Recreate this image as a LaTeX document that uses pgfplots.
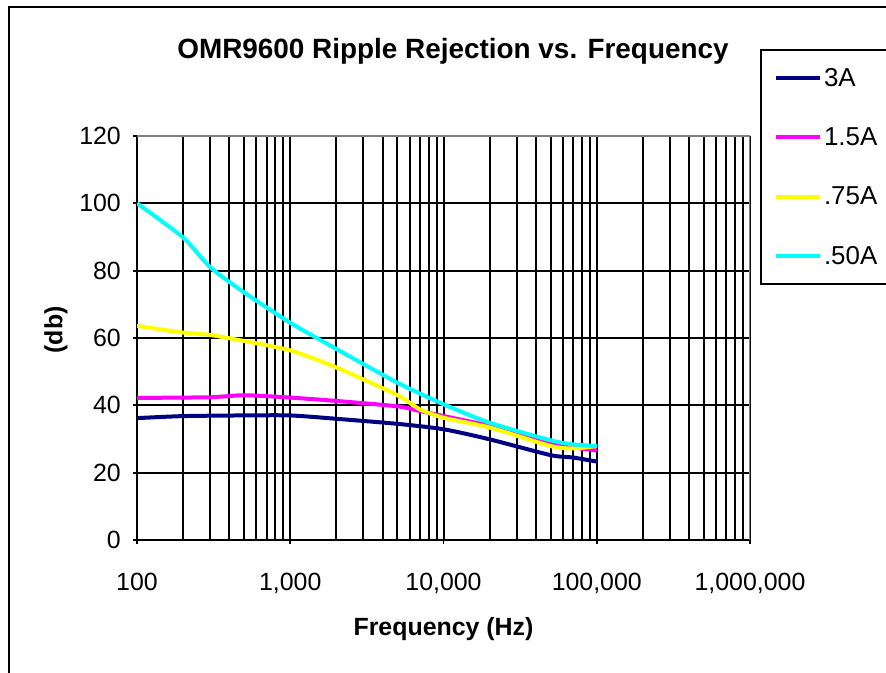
\documentclass[border=0pt]{standalone}
\usepackage{fontspec}
\setmainfont{Liberation Sans}
\usepackage{pgfplots}
\pgfplotsset{compat=1.18}
\definecolor{c3a}{HTML}{000080}
\definecolor{c15a}{HTML}{FF00FF}
\definecolor{c75a}{HTML}{FFFF00}
\definecolor{c50a}{HTML}{00FFFF}
\begin{document}
\begin{tikzpicture}[x=1bp,y=1bp]
\path[use as bounding box] (0,0) rectangle (886,673);
\draw[line width=2.2bp] (9,-5) -- (9,666) -- (890,666);
\node[font=\bfseries\fontsize{28}{32}\selectfont] at (453,622) {OMR9600 Ripple Rejection vs. Frequency};
\begin{axis}[
  at={(137bp,133bp)}, anchor=south west,
  width=613bp, height=404bp, scale only axis,
  xmode=log, xmin=100, xmax=1000000,
  ymin=0, ymax=120, ytick={0,20,...,120},
  xtick={100,1000,10000,100000,1000000},
  xticklabels={100,{1,000},{10,000},{100,000},{1,000,000}},
  axis x line*=bottom, axis y line*=left,
  axis line style={line width=2bp, black},
  xmajorgrids, xminorgrids, ymajorgrids,
  grid style={line width=2bp, black},
  major grid style={line width=2bp, black},
  minor grid style={line width=2bp, black},
  tick align=outside, major tick length=4bp, minor tick length=0bp,
  tick style={line width=1.8bp, black},
  /pgf/number format/assume math mode=true,
  ticklabel style={font=\fontsize{25}{30}\selectfont, inner sep=0pt},
  xticklabel style={anchor=base, yshift=-47bp},
  yticklabel style={anchor=east, xshift=-12bp},
  xlabel={Frequency (Hz)}, ylabel={(db)},
  every axis x label/.style={at={(rel axis cs:0.5,0)}, yshift=-89bp, anchor=center,
    font=\bfseries\fontsize{25}{30}\selectfont},
  every axis y label/.style={at={(rel axis cs:0,0.52)}, xshift=-81bp, rotate=90, anchor=center,
    font=\bfseries\fontsize{25}{30}\selectfont},
  legend style={draw=black, line width=2bp, fill=white,
    at={(rel axis cs:1.0163,1.2153)}, anchor=north west,
    font=\fontsize{26}{30}\selectfont, row sep=36bp,
    inner xsep=13bp, inner ysep=16bp},
  legend cell align=left,
  legend image code/.code={\draw[#1] (0bp,0bp) -- (44bp,0bp);},
  every axis plot/.append style={line width=4bp, smooth, tension=0.4},
]
\addplot[c3a] coordinates {
(100,36.2) (200,36.8) (500,37) (1000,37) (2000,36) (5000,34.5)
(10000,32.9) (20000,29.9) (50000,25.2) (70000,24.5) (100000,23.3)
};
\addlegendentry{3A\hspace*{40bp}}
\addplot[c15a] coordinates {
(100,42.2) (300,42.4) (500,43) (1000,42.3) (2000,41.3) (5000,39.7)
(7000,38.3) (10000,36.8) (20000,33.9) (50000,28.9) (70000,27.5) (100000,26.6)
};
\addlegendentry{1.5A}
\addplot[c75a] coordinates {
(100,63.6) (200,61.6) (300,60.9) (500,59.1) (1000,56.3) (2000,51.2)
(5000,43) (7000,38.8) (10000,36.3) (20000,33.4) (50000,27.9) (70000,27.2) (100000,27.9)
};
\addlegendentry{.75A}
\addplot[c50a] coordinates {
(100,100) (200,89.8) (300,81) (500,73.5) (1000,64.5) (2000,56.7)
(5000,46.7) (10000,40.3) (20000,34.8) (50000,29.6) (70000,28.4) (100000,27.9)
};
\addlegendentry{.50A}
\draw[line width=2bp, gray] (rel axis cs:0,1) -- (rel axis cs:1,1) -- (rel axis cs:1,0);
\end{axis}
\end{tikzpicture}
\end{document}
